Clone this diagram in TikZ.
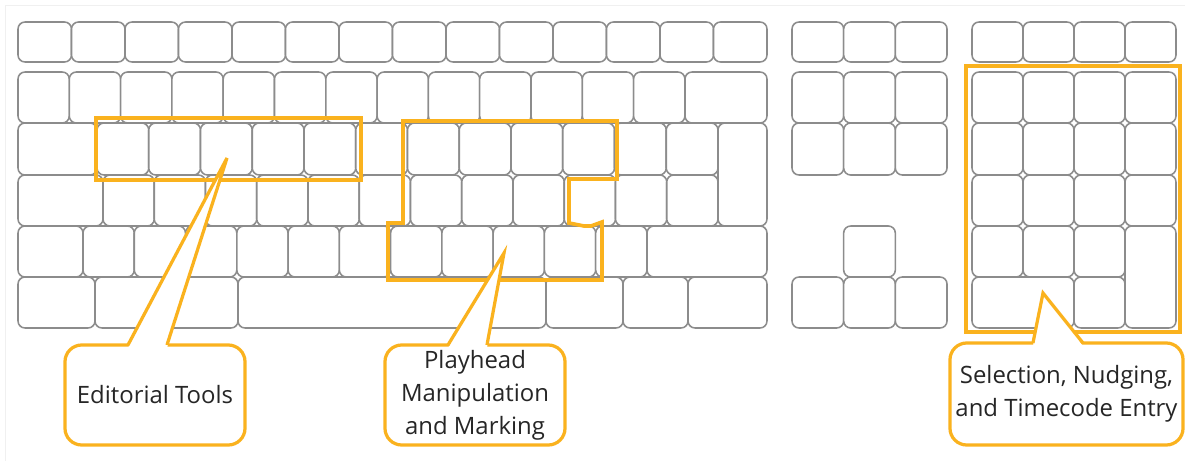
\documentclass[tikz,border=0pt]{standalone}
\usepackage{fontspec}
\setmainfont{Open Sans}
\usetikzlibrary{calc}
\definecolor{keyorange}{RGB}{250,178,30}
\definecolor{keygray}{RGB}{140,140,140}
\tikzset{
  keycap/.style={draw=keygray, line width=1.1pt, fill=white, rounded corners=0.175cm},
  zone/.style={draw=keyorange, line width=2.6pt},
  callout/.style={draw=keyorange, line width=2.3pt, fill=white, rounded corners=0.42cm,
    align=center, inner sep=0pt, outer sep=0pt, text=black!85,
    font=\fontsize{17}{23.5}\selectfont},
  pointer/.style={draw=keyorange, line width=2.3pt},
}

\begin{document}
\begin{tikzpicture}[x=0.025cm, y=-0.025cm]
    \useasboundingbox (0,0) rectangle (1185,461);
    \draw[black!6, line width=0.6pt] (5,461) -- (5,5) -- (1185,5);
    \pgfmathsetmacro{\fpitch}{53.5}
    \pgfmathsetmacro{\npitch}{51}
    \pgfmathsetmacro{\mpitch}{51.67}
    % main block
    \foreach \i in {0,...,13}
        \draw[keycap] ({18+\fpitch*\i},22) rectangle ({18+\fpitch*(\i+1)},62);
    \foreach \i in {0,...,12}
        \draw[keycap] ({18+51.3*\i},72) rectangle ({18+51.3*(\i+1)},123);
    \draw[keycap] (685,72) rectangle (767,123);
    \draw[keycap] (18,123) rectangle (97,175);
    \foreach \i in {0,...,11}
        \draw[keycap] ({97+51.75*\i},123) rectangle ({97+51.75*(\i+1)},175);
    \draw[keycap] (718,123) rectangle (767,226);
    \draw[keycap] (18,175) rectangle (103,226);
    \foreach \i in {0,...,11}
        \draw[keycap] ({103+51.25*\i},175) rectangle ({103+51.25*(\i+1)},226);
    \draw[keycap] (18,226) rectangle (83,277);
    \foreach \i in {0,...,10}
        \draw[keycap] ({83+51.27*\i},226) rectangle ({83+51.27*(\i+1)},277);
    \draw[keycap] (647,226) rectangle (767,277);
    \foreach \a/\b in {18/95,95/238,238/546,546/623,623/688,688/767}
        \draw[keycap] (\a,277) rectangle (\b,328);
    % navigation block
    \foreach \i in {0,1,2} {
        \draw[keycap] ({792+\mpitch*\i},22) rectangle ({792+\mpitch*(\i+1)},62);
        \draw[keycap] ({792+\mpitch*\i},72) rectangle ({792+\mpitch*(\i+1)},123);
        \draw[keycap] ({792+\mpitch*\i},123) rectangle ({792+\mpitch*(\i+1)},175);
        \draw[keycap] ({792+\mpitch*\i},277) rectangle ({792+\mpitch*(\i+1)},328);
    }
    \draw[keycap] (843.67,226) rectangle (895.33,277);
    % numeric pad
    \foreach \i in {0,...,3} {
        \draw[keycap] ({972+\npitch*\i},22) rectangle ({972+\npitch*(\i+1)},62);
        \draw[keycap] ({972+\npitch*\i},72) rectangle ({972+\npitch*(\i+1)},123);
        \draw[keycap] ({972+\npitch*\i},123) rectangle ({972+\npitch*(\i+1)},175);
        \draw[keycap] ({972+\npitch*\i},175) rectangle ({972+\npitch*(\i+1)},226);
    }
    \foreach \i in {0,1,2}
        \draw[keycap] ({972+\npitch*\i},226) rectangle ({972+\npitch*(\i+1)},277);
    \draw[keycap] (972,277) rectangle (1074,328);
    \draw[keycap] (1074,277) rectangle (1125,328);
    \draw[keycap] (1125,226) rectangle (1176,328);
    % highlighted zones
    \draw[zone] (96,118) rectangle (361,180);
    \draw[zone] (403,121) -- (617,121) -- (617,179) -- (569,179) -- (569,223)
        -- (584,226) -- (591,226) -- (602,222) -- (602,280) -- (388,280)
        -- (388,223) -- (403,223) -- cycle;
    \draw[zone] (966,66) rectangle (1180,332);
    % callouts
    \node[callout, minimum width=4.5cm, minimum height=2.5cm] (edit) at (155,395) {Editorial Tools};
    \node[callout, minimum width=4.5cm, minimum height=2.5cm] (play) at (475,395) {\raisebox{-2pt}{\parbox{4.4cm}{\centering Playhead\\Manipulation\\and Marking}}};
    \node[callout, minimum width=5.825cm, minimum height=2.55cm] (sel) at (1066.5,394) {Selection, Nudging,\\and Timecode Entry};
    \coordinate (edit tip) at (227,158);
    \coordinate (play tip) at (504,253);
    \coordinate (sel tip) at (1043,293);
    \coordinate (edit l) at ($(edit.north west)+(63,0)$);
    \coordinate (edit r) at ($(edit.north west)+(102,0)$);
    \coordinate (play l) at ($(play.north west)+(63,0)$);
    \coordinate (play r) at ($(play.north west)+(102,0)$);
    \coordinate (sel l) at ($(sel.north west)+(83,0)$);
    \coordinate (sel r) at ($(sel.north west)+(133,0)$);
    \foreach \c in {edit,play,sel} {
        \fill[white] ($(\c\space l)+(0,3)$) -- (\c\space tip) -- ($(\c\space r)+(0,3)$) -- cycle;
        \draw[pointer] (\c\space l) -- (\c\space tip) -- (\c\space r);
    }
\end{tikzpicture}
\end{document}
